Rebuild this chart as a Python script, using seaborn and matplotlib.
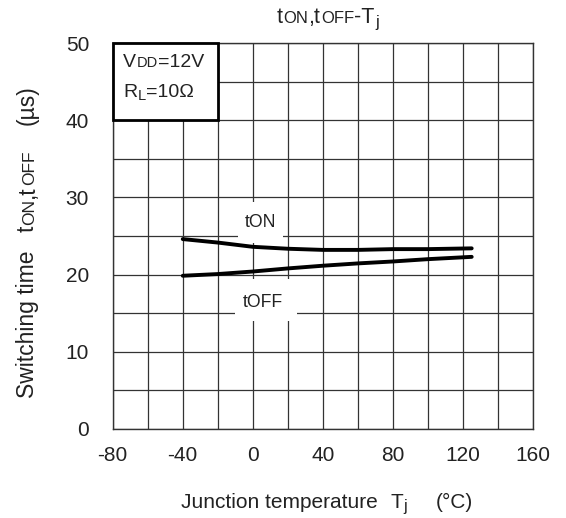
import matplotlib
matplotlib.use("Agg")
import matplotlib.pyplot as plt
from matplotlib.patches import Rectangle
from matplotlib.transforms import IdentityTransform
import seaborn as sns
import pandas as pd

# Switching time versus junction temperature
temp_c = [-40, -20, 0, 20, 40, 60, 80, 100, 125]
t_on_us = [24.6, 24.15, 23.6, 23.35, 23.2, 23.2, 23.3, 23.3, 23.4]
t_off_us = [19.85, 20.07, 20.4, 20.8, 21.15, 21.45, 21.7, 22.0, 22.3]

x_ticks = [-80, -40, 0, 40, 80, 120, 160]
y_ticks = [0, 10, 20, 30, 40, 50]

TEXT = "#222222"
GRID = "#333333"

sns.set_theme(style="white")
plt.rcParams["font.family"] = ["Liberation Sans", "DejaVu Sans"]

df = pd.concat([
    pd.DataFrame({"Tj": temp_c, "t": t_on_us, "curve": "tON"}),
    pd.DataFrame({"Tj": temp_c, "t": t_off_us, "curve": "tOFF"}),
])

fig = plt.figure(figsize=(5.66, 5.18), dpi=100)
ax = fig.add_axes([112.7 / 566, 89 / 518, (533 - 112.7) / 566, 386 / 518])

sns.lineplot(data=df, x="Tj", y="t", hue="curve", palette=["black", "black"],
             linewidth=2.8, legend=False, ax=ax, zorder=3, sort=False)

ax.set_xlim(-80, 160)
ax.set_ylim(0, 50)
ax.set_xticks(range(-80, 161, 20))
ax.set_xticklabels([str(v) if v in x_ticks else "" for v in range(-80, 161, 20)])
ax.set_yticks(range(0, 51, 5))
ax.set_yticklabels([str(v) if v in y_ticks else "" for v in range(0, 51, 5)])
ax.tick_params(axis="both", length=0, labelsize=15, labelcolor=TEXT)
ax.tick_params(axis="x", pad=12)
ax.tick_params(axis="y", pad=17)
ax.set_axisbelow(True)
ax.grid(True, color=GRID, linewidth=0.9)
for sp in ax.spines.values():
    sp.set_color(GRID)
    sp.set_linewidth(1.0)
ax.set_xlabel("")
ax.set_ylabel("")

# white gaps behind the curve labels
ax.add_patch(Rectangle((-8.6, 24.1), 25.7, 5.3, facecolor="white", edgecolor="none", zorder=1))
ax.add_patch(Rectangle((-10.2, 14.0), 35.3, 5.4, facecolor="white", edgecolor="none", zorder=1))
ax.text(4.5, 26.8, "tON", fontsize=12.7, color=TEXT, ha="center", va="center", zorder=4)
ax.text(5.7, 16.4, "tOFF", fontsize=12.7, color=TEXT, ha="center", va="center", zorder=4)

# condition box
ax.add_patch(Rectangle((-80, 40), 60, 10, facecolor="white", edgecolor="black",
                       linewidth=2.0, zorder=5, clip_on=False))


def draw_runs(x0, y0, parts, rotation=0, center=False):
    """Place a sequence of text runs of different sizes, in display pixels."""
    renderer = fig.canvas.get_renderer()
    items = []
    pos = 0.0
    for p in parts:
        if isinstance(p, (int, float)):
            pos += p
            continue
        s, size, shift = p
        t = fig.text(0, 0, s, fontsize=size, rotation=rotation, rotation_mode="anchor",
                     ha="left", va="baseline", color=TEXT, transform=IdentityTransform(),
                     zorder=6)
        bb = t.get_window_extent(renderer)
        length = bb.height if rotation == 90 else bb.width
        items.append((t, pos, shift))
        pos += length + 0.5
    offset = -pos / 2 if center else 0.0
    for t, p, shift in items:
        if rotation == 90:
            t.set_position((x0 - shift, y0 + offset + p))
        else:
            t.set_position((x0 + offset + p, y0 + shift))


H = 518

# title
draw_runs(328, H - 23, [("t", 15.5, 0), ("ON", 12, 0), (",t", 15.5, 0), ("OFF", 12, 0),
                        ("-T", 15.5, 0), ("j", 12, -3.5)], center=True)
# x label
draw_runs(327, H - 508, [("Junction temperature", 15, 0), 12, ("T", 15, 0), ("j", 11.5, -3.5),
                         28, ("(°C)", 15, 0)], center=True)
# y label
draw_runs(34, H - 241.5, [("Switching time", 16.5, 0), 18, ("t", 16.5, 0), ("ON", 12.5, 0),
                          (",t", 16.5, 0), ("OFF", 12.5, 0), 25, ("(µs)", 16.5, 0)],
          rotation=90, center=True)
# conditions
draw_runs(123, H - 67, [("V", 14, 0), ("DD", 10.5, 0), ("=12V", 14, 0)])
draw_runs(123, H - 97, [("R", 14, 0), ("L", 10.5, -3), ("=10Ω", 14, 0)])

fig.savefig("out.png", dpi=100)
